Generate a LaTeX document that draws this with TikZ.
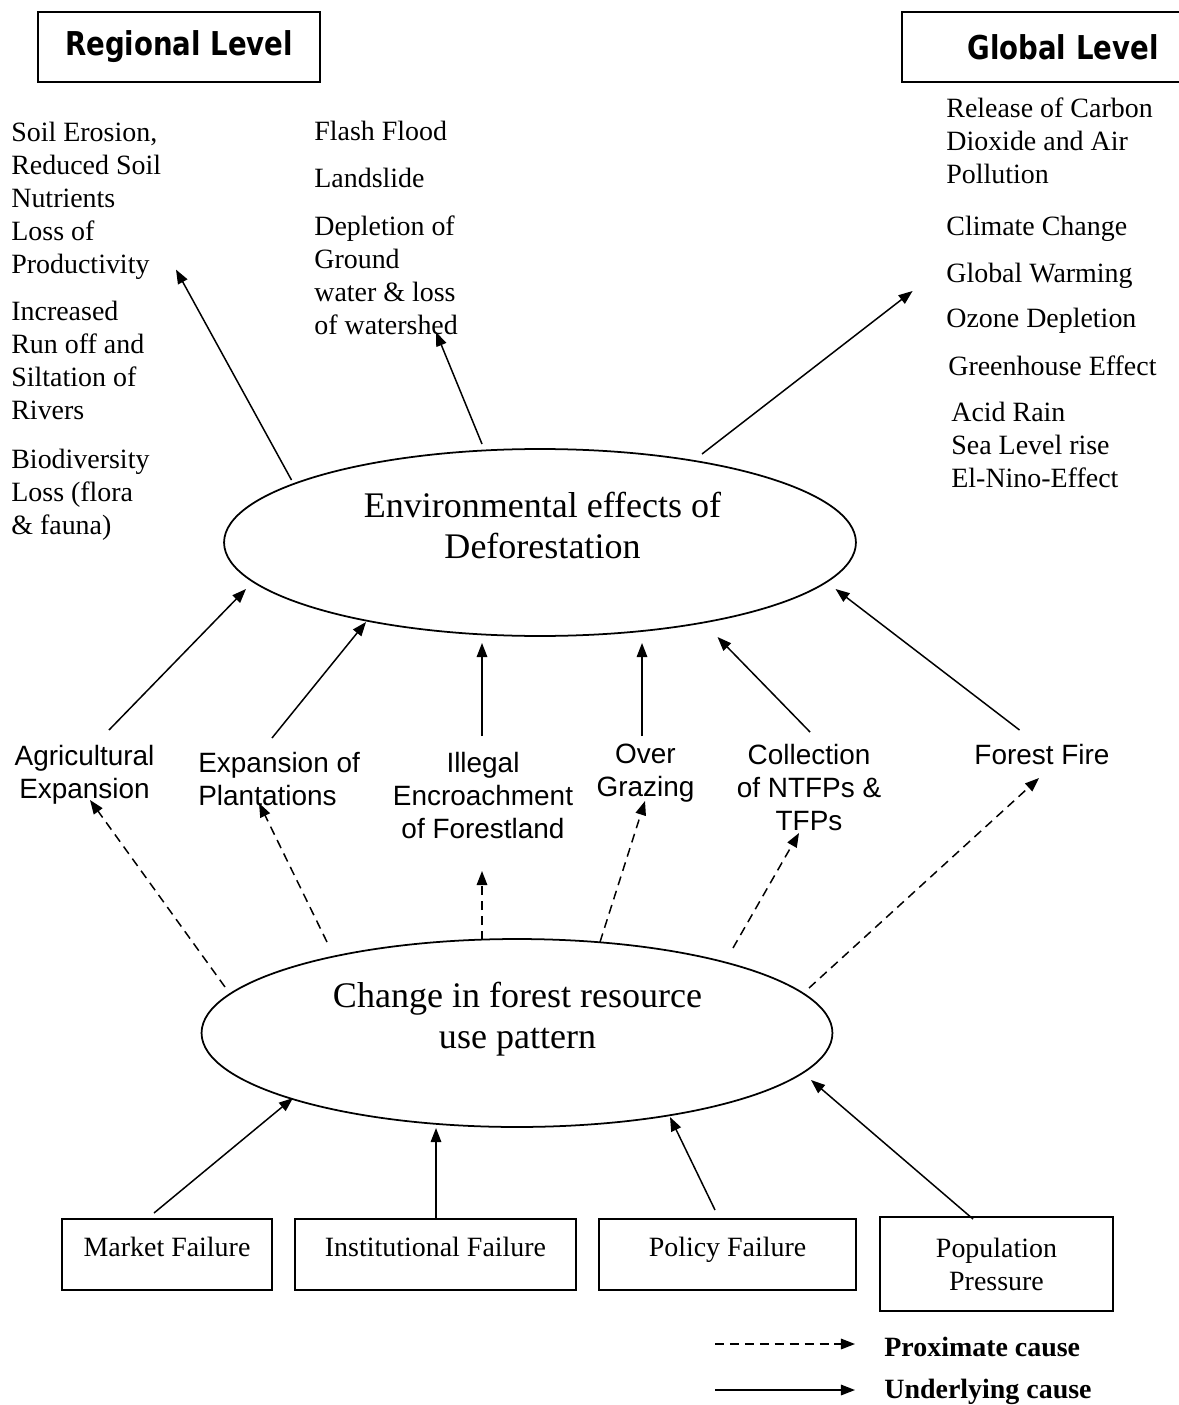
\documentclass[tikz,border=0pt]{standalone}
\usepackage{fontspec}
\usepackage{graphicx}
\setmainfont{Liberation Serif}
\setsansfont{Liberation Sans}
\newfontfamily\headfont{DejaVu Sans}
\usetikzlibrary{arrows.meta,shapes.geometric}
\newcommand{\headtxt}[1]{\scalebox{1}[1.19]{#1}}
\begin{document}
\begin{tikzpicture}[x=0.02cm,y=-0.02cm,
  ser/.style={font=\fontsize{15.9}{18.8}\selectfont, inner sep=0pt, align=left, anchor=north west},
  lab/.style={font=\sffamily\fontsize{15.9}{18.8}\selectfont, inner sep=0pt, align=center, anchor=north},
  big/.style={font=\fontsize{20.5}{23.6}\selectfont, inner sep=0pt, align=center},
  ell/.style={draw, ellipse, line width=1pt, inner sep=0pt},
  hbox/.style={draw, line width=1.1pt, inner sep=0pt, font=\headfont\bfseries\fontsize{15.7}{18}\selectfont},
  fbox/.style={draw, line width=1.1pt, inner sep=0pt, align=center, font=\fontsize{15.9}{18.8}\selectfont},
  legtxt/.style={inner sep=0pt, anchor=base west, font=\bfseries\fontsize{15.9}{18.8}\selectfont},
  arr/.style={line width=0.85pt, -{Triangle[length=8pt,width=6pt]}},
  darr/.style={arr, dash pattern=on 5.1pt off 3.4pt},
]
\useasboundingbox (0,0) rectangle (1178,1405);

% headings
\node[hbox, minimum width=5.64cm, minimum height=1.4cm] (reg) at (179,47) {\headtxt{Regional Level}};
\node[hbox, minimum width=6.44cm, minimum height=1.4cm] (glo) at (1063,47) {\headtxt{Global Level}};

% regional effects
\node[ser] (r1) at (11,122) {Soil Erosion,\\Reduced Soil\\Nutrients\\Loss of\\Productivity};
\node[ser] (r2) at (11,301) {Increased\\Run off and\\Siltation of\\Rivers};
\node[ser] (r3) at (11,449) {Biodiversity\\Loss (flora\\\& fauna)};
\node[ser] (m1) at (314,121) {Flash Flood};
\node[ser] (m2) at (314,168) {Landslide};
\node[ser] (m3) at (314,215) {Depletion of\\Ground\\water \& loss\\of watershed};

% global effects
\node[ser] (g1) at (946,97) {Release of Carbon\\Dioxide and Air\\Pollution};
\node[ser] (g2) at (946,216) {Climate Change};
\node[ser] (g3) at (946,263) {Global Warming};
\node[ser] (g4) at (946,308) {Ozone Depletion};
\node[ser] (g5) at (948,355) {Greenhouse Effect};
\node[ser] (g6) at (951,402) {Acid Rain\\Sea Level rise\\El-Nino-Effect};

% ellipses
\node[ell, minimum width=12.64cm, minimum height=3.74cm] (env) at (540,542.5) {};
\node[big] (envt) at (542.5,525.6) {Environmental effects of\\Deforestation};
\node[ell, minimum width=12.62cm, minimum height=3.76cm] (chg) at (517,1033) {};
\node[big] (chgt) at (517.5,1019) {Change in forest resource\\use pattern};

% proximate causes
\node[lab] (ag) at (84.5,745) {Agricultural\\Expansion};
\node[lab, align=left, anchor=north west] (pl) at (198,752) {Expansion of\\Plantations};
\node[lab] (il) at (483,752) {Illegal\\Encroachment\\of Forestland};
\node[lab] (og) at (645.5,744) {Over\\Grazing};
\node[lab] (co) at (809,744) {Collection\\of NTFPs \&\\TFPs};
\node[lab] (ff) at (1042,744) {Forest Fire};

% underlying causes
\node[fbox, minimum width=4.2cm, minimum height=1.42cm, text height=10.8pt, text depth=8pt] (mk) at (167,1254.5) {Market Failure};
\node[fbox, minimum width=5.62cm, minimum height=1.42cm, text height=10.8pt, text depth=8pt] (inst) at (435.5,1254.5) {Institutional Failure};
\node[fbox, minimum width=5.14cm, minimum height=1.42cm, text height=10.8pt, text depth=8pt] (pol) at (727.5,1254.5) {Policy Failure};
\node[fbox, minimum width=4.66cm, minimum height=1.88cm] (pop) at (996.5,1264) {Population\\Pressure};

% arrow end points
\coordinate (oL) at (291.5,480); \coordinate (tL) at (176,269.6);
\coordinate (oM) at (482,444);   \coordinate (tM) at (436,332);
\coordinate (oG) at (702,454);   \coordinate (tG) at (912.6,291);

\coordinate (sAg) at (109,730);  \coordinate (eAg) at (246,589);
\coordinate (sPl) at (272,738);  \coordinate (ePl) at (366,622);
\coordinate (sIl) at (482,736);  \coordinate (eIl) at (482,643);
\coordinate (sOg) at (642,736);  \coordinate (eOg) at (642,643);
\coordinate (sCo) at (810,732);  \coordinate (eCo) at (717.5,637);
\coordinate (sFf) at (1019.5,730); \coordinate (eFf) at (835.5,589);

\coordinate (cAg) at (225,987);  \coordinate (dAg) at (90,800);
\coordinate (cPl) at (327,942);  \coordinate (dPl) at (259,803);
\coordinate (cIl) at (482,940);  \coordinate (dIl) at (482,871);
\coordinate (cOg) at (600,942);  \coordinate (dOg) at (645,801);
\coordinate (cCo) at (733,948);  \coordinate (dCo) at (799,833);
\coordinate (cFf) at (809,988);  \coordinate (dFf) at (1039,778);

\coordinate (bMk) at (154,1213); \coordinate (kMk) at (293,1098);
\coordinate (bIn) at (436,1219); \coordinate (kIn) at (436,1128);
\coordinate (bPo) at (715,1210); \coordinate (kPo) at (670,1117);
\coordinate (bPp) at (973,1219); \coordinate (kPp) at (811,1080);

% effects arrows
\draw[arr] (oL) -- (tL);
\draw[arr] (oM) -- (tM);
\draw[arr] (oG) -- (tG);

% proximate -> effects
\draw[arr] (sAg) -- (eAg);
\draw[arr] (sPl) -- (ePl);
\draw[arr] (sIl) -- (eIl);
\draw[arr] (sOg) -- (eOg);
\draw[arr] (sCo) -- (eCo);
\draw[arr] (sFf) -- (eFf);

% change -> proximate (dashed)
\draw[darr] (cAg) -- (dAg);
\draw[darr] (cPl) -- (dPl);
\draw[darr] (cIl) -- (dIl);
\draw[darr] (cOg) -- (dOg);
\draw[darr] (cCo) -- (dCo);
\draw[darr] (cFf) -- (dFf);

% underlying -> change
\draw[arr] (bMk) -- (kMk);
\draw[arr] (bIn) -- (kIn);
\draw[arr] (bPo) -- (kPo);
\draw[arr] (bPp) -- (kPp);

% legend
\coordinate (l1a) at (715,1344); \coordinate (l1b) at (855,1344);
\coordinate (l2a) at (715,1390); \coordinate (l2b) at (855,1390);
\draw[darr] (l1a) -- (l1b);
\draw[arr] (l2a) -- (l2b);
\node[legtxt] (lgp) at (884,1356) {Proximate cause};
\node[legtxt] (lgu) at (884,1398) {Underlying cause};
\end{tikzpicture}
\end{document}
